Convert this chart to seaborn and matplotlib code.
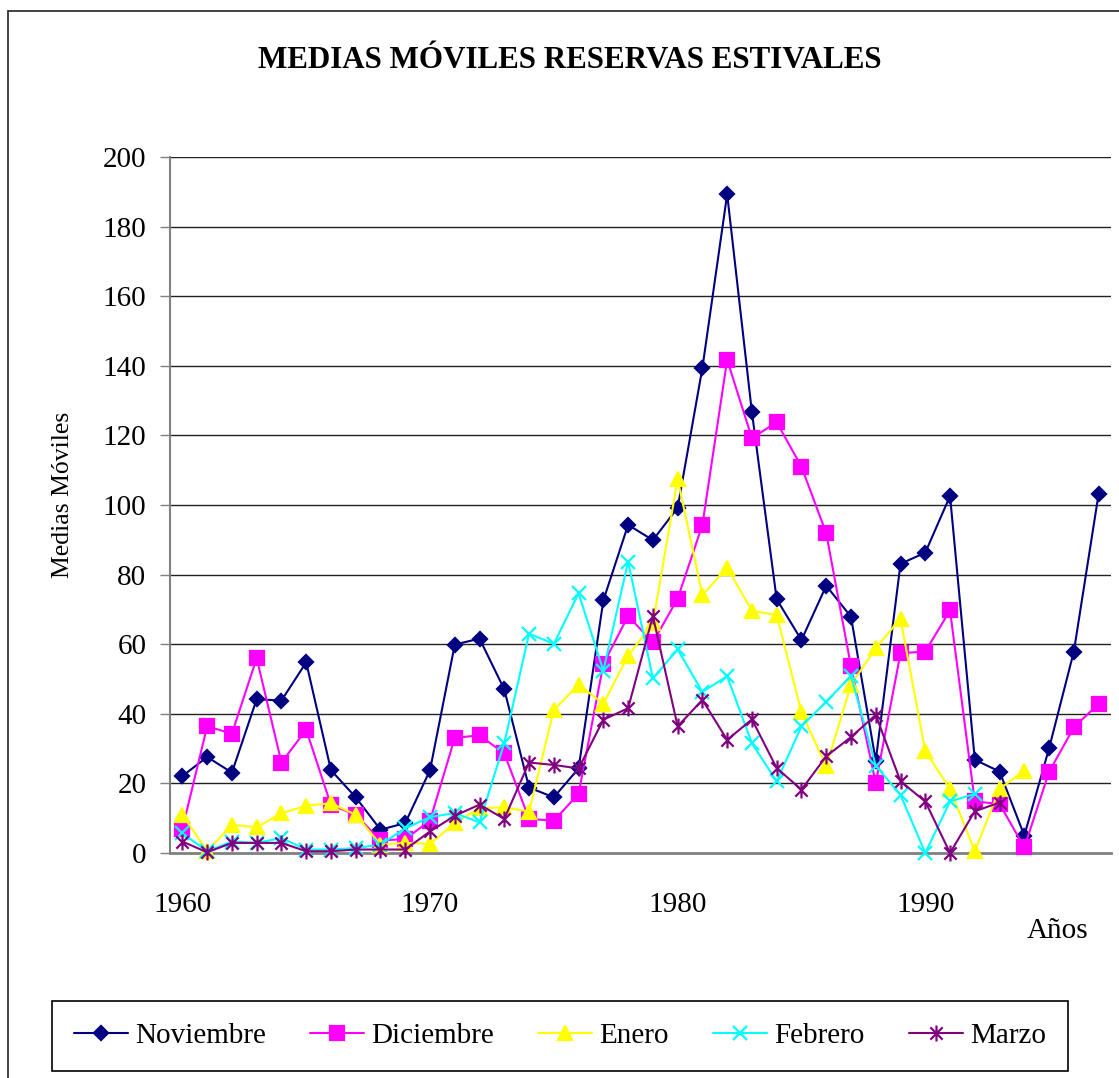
import numpy as np
import pandas as pd
import matplotlib
matplotlib.use("Agg")
import matplotlib.pyplot as plt
from matplotlib.path import Path
from matplotlib.patches import Rectangle
import seaborn as sns

# Moving averages (1960-1997)
years = list(range(1960, 1998))

noviembre = [22.1, 27.6, 23.1, 44.2, 43.8, 54.8, 23.8, 16.0, 6.7, 8.6,
             23.8, 59.9, 61.6, 47.0, 18.8, 16.0, 24.3, 72.6, 94.3, 89.9,
             99.2, 139.4, 189.3, 126.6, 72.9, 61.2, 76.8, 67.9, 26.5, 83.1,
             86.3, 102.6, 26.8, 23.4, 5.0, 30.1, 57.9, 103.2]

diciembre = [6.9, 36.4, 34.3, 56.0, 26.0, 35.4, 13.8, 11.0, 3.6, 4.0,
             9.3, 33.1, 33.8, 28.6, 9.8, 9.3, 17.0, 54.3, 68.1, 60.5,
             73.1, 94.3, 141.7, 119.2, 123.8, 111.0, 91.9, 53.6, 20.1, 57.4,
             57.9, 69.7, 14.8, 14.1, 1.6, 23.3, 36.1, 42.9]

enero = [11.0, 0.5, 8.1, 7.4, 11.4, 13.6, 14.3, 11.0, 2.4, 2.9,
         2.6, 8.6, 12.9, 13.1, 11.9, 41.1, 48.4, 42.9, 56.7, 66.0,
         107.4, 74.1, 82.0, 69.6, 68.4, 40.4, 24.9, 48.3, 58.9, 67.3,
         29.2, 18.4, 0.5, 18.4, 23.7, None, None, None]

febrero = [5.7, 0.5, 3.3, 2.9, 4.3, 1.0, 1.0, 1.4, 2.4, 7.1,
           10.3, 11.5, 8.8, 31.6, 63.0, 60.1, 74.6, 52.4, 83.7, 50.2,
           58.5, 46.3, 50.8, 31.5, 20.6, 36.4, 43.5, 50.9, 25.1, 16.7,
           0.0, 14.8, 17.0, None, None, None, None, None]

marzo = [3.3, 0.2, 2.9, 2.9, 2.9, 0.5, 0.5, 1.0, 1.0, 1.0,
         6.2, 10.7, 13.9, 9.8, 26.0, 25.3, 24.3, 38.3, 41.6, 68.1,
         36.4, 44.0, 32.5, 38.4, 24.4, 18.2, 27.8, 33.3, 39.7, 20.6,
         14.8, 0.0, 12.0, 14.5, None, None, None, None]

series_names = ["Noviembre", "Diciembre", "Enero", "Febrero", "Marzo"]
series_values = [noviembre, diciembre, enero, febrero, marzo]
colors = ["#000080", "#FF00FF", "#FFFF00", "#00FFFF", "#800080"]

# Excel-like asterisk marker: an x with a vertical bar
star = Path([(-1, -1), (1, 1), (-1, 1), (1, -1), (0, -1.3), (0, 1.3)],
            [Path.MOVETO, Path.LINETO, Path.MOVETO, Path.LINETO,
             Path.MOVETO, Path.LINETO])
markers = ["D", "s", "^", "x", star]
msizes = [7.4, 9.4, 10.5, 10.5, 11.5]

sns.set_theme(style="white")
plt.rcParams["font.family"] = ["Liberation Serif", "DejaVu Serif"]
plt.rcParams["text.color"] = "black"
plt.rcParams["xtick.labelcolor"] = "black"
plt.rcParams["ytick.labelcolor"] = "black"

W, H = 1119, 1078
fig = plt.figure(figsize=(W / 100, H / 100), dpi=100)
ax = fig.add_axes([170 / W, 1 - 853 / H, (1111 - 170) / W, (853 - 157) / H])

for name, vals, col, mk, ms in zip(series_names, series_values, colors, markers, msizes):
    df = pd.DataFrame({"Año": years, "Valor": vals}).dropna()
    sns.lineplot(data=df, x="Año", y="Valor", ax=ax, label=name, color=col,
                 marker=mk, markersize=ms, markerfacecolor=col,
                 markeredgecolor=col, markeredgewidth=1.6, linewidth=1.5,
                 clip_on=False, zorder=3)

ax.set_xlim(1959.5, 1997.5)
ax.set_ylim(0, 200)
ax.set_yticks(np.arange(0, 201, 20))
ax.set_xticks([1960, 1970, 1980, 1990])
ax.set_xticklabels(["1960", "1970", "1980", "1990"])
ax.set_xlabel("")
ax.set_ylabel("")

for v in range(20, 201, 20):
    ax.axhline(v, color="#222222", linewidth=1.0, zorder=1)

for s in ["top", "right"]:
    ax.spines[s].set_visible(False)
ax.spines["left"].set_color("#808080")
ax.spines["left"].set_linewidth(1.5)
ax.spines["bottom"].set_color("#808080")
ax.spines["bottom"].set_linewidth(2)

ax.tick_params(axis="y", direction="out", length=7, width=1, color="#808080",
               labelcolor="black", pad=10, labelsize=21, left=True)
ax.tick_params(axis="x", length=0, pad=28, labelsize=21, labelcolor="black")
ax.get_legend().remove()

fig.text(570 / W, 1 - 61 / H, "MEDIAS MÓVILES RESERVAS ESTIVALES",
         ha="center", va="center", fontsize=22.3, fontweight="bold",
         color="black")
fig.text(63 / W, 1 - 495 / H, "Medias Móviles", rotation=90,
         ha="center", va="center", fontsize=18.5, color="black")
fig.text(1058 / W, 1 - 931 / H, "Años", ha="center", va="center",
         fontsize=21, color="black")

handles, labels = ax.get_legend_handles_labels()
leg = fig.legend(handles, labels, loc="center", ncol=5,
                 bbox_to_anchor=(560 / W, 1 - 1036 / H), fontsize=21,
                 frameon=True, fancybox=False, framealpha=1,
                 edgecolor="black", handlelength=1.86, handletextpad=0.25,
                 columnspacing=1.5, borderpad=0.75)
leg.get_frame().set_linewidth(1.2)
for t in leg.get_texts():
    t.set_color("black")

# outer chart-area border (runs off the right and bottom of the image)
fig.patches.append(Rectangle((8 / W, -0.05), 1.1, 1 - 11 / H + 0.05,
                             transform=fig.transFigure, fill=False,
                             edgecolor="#333333", linewidth=1.3))

fig.savefig("out.png", dpi=100)
